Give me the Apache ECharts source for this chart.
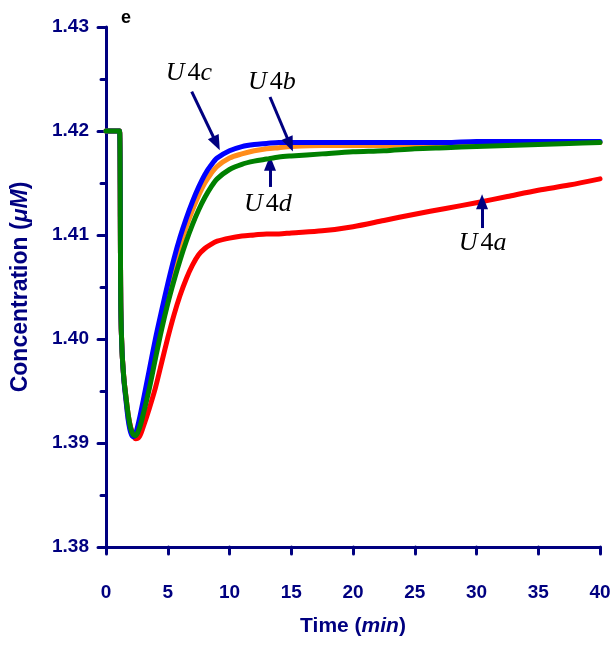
<!DOCTYPE html>
<html>
<head>
<meta charset="utf-8">
<script src="https://cdn.jsdelivr.net/npm/echarts@6/dist/echarts.min.js"></script>
<style>html,body{margin:0;padding:0;background:#fff;}#chart{width:616px;height:645px;}</style>
</head>
<body>
<div id="chart"></div>
<script>
// ---- data ----
const time = [0, 1.0, 1.1, 1.2, 1.3, 1.45, 1.6, 1.8, 2.0, 2.2, 2.4, 2.7, 3.0, 3.5, 4.0, 4.5, 5.0, 5.5, 6.0, 6.5, 7.0, 7.5, 8.0, 8.5, 9.0, 10, 11, 12, 13, 14, 15, 17.5, 20, 22.5, 25, 27.5, 30, 32.5, 35, 37.5, 40];
const u4a = [1.42, 1.42, 1.42, 1.4030, 1.3988, 1.3962, 1.3946, 1.3927, 1.3915, 1.3908, 1.3904, 1.3906, 1.3915, 1.3933, 1.3953, 1.3977, 1.4001, 1.4023, 1.4042, 1.4058, 1.4071, 1.4081, 1.4087, 1.4091, 1.4094, 1.4097, 1.4099, 1.4100, 1.4101, 1.4101, 1.4102, 1.4104, 1.4108, 1.4114, 1.4120, 1.41255, 1.4131, 1.4137, 1.4143, 1.4148, 1.4154];
const u4b = [1.42, 1.42, 1.42, 1.4030, 1.3988, 1.3961, 1.3944, 1.3924, 1.3912, 1.3907, 1.3908, 1.3919, 1.3935, 1.3963, 1.3992, 1.4019, 1.4045, 1.4068, 1.4089, 1.4108, 1.4124, 1.4138, 1.4150, 1.4159, 1.4166, 1.4174, 1.4178, 1.4181, 1.4183, 1.4184, 1.4185, 1.4186, 1.4186, 1.4186, 1.4187, 1.4187, 1.4188, 1.4188, 1.4188, 1.4189, 1.4189];
const u4c = [1.42, 1.42, 1.42, 1.4030, 1.3988, 1.3960, 1.3943, 1.3922, 1.3910, 1.3906, 1.3909, 1.3923, 1.3940, 1.3970, 1.4000, 1.4027, 1.4053, 1.4077, 1.4098, 1.4116, 1.4132, 1.4146, 1.4158, 1.4167, 1.4174, 1.4181, 1.4185, 1.4187, 1.4188, 1.4189, 1.4189, 1.4189, 1.4189, 1.4189, 1.4189, 1.4189, 1.4190, 1.4190, 1.4190, 1.4190, 1.4190];
const u4d = [1.42, 1.42, 1.42, 1.4030, 1.3988, 1.3962, 1.3946, 1.3927, 1.3914, 1.3908, 1.3907, 1.3914, 1.3927, 1.3952, 1.3981, 1.4009, 1.4034, 1.4056, 1.4076, 1.4094, 1.4110, 1.4124, 1.4136, 1.4146, 1.4154, 1.4163, 1.4168, 1.4171, 1.4173, 1.4175, 1.4176, 1.4178, 1.4180, 1.4181, 1.4183, 1.4184, 1.4185, 1.4186, 1.4187, 1.4188, 1.4189];
const seriesNames = ['U4a', 'U4b', 'U4c', 'U4d'];
const yTicks = [1.38, 1.39, 1.40, 1.41, 1.42, 1.43];
const xTicks = [0, 5, 10, 15, 20, 25, 30, 35, 40];
// annotation labels: [letter, t, conc]
const labelSuffix = ['a', 'b', 'c', 'd'];
const labelPos = [[30.5, 1.4092], [13.44, 1.4247], [6.72, 1.4256], [13.1, 1.4130]];
// arrows: [from, to] in data coordinates
const arrows = [
  [[30.45, 1.41067], [30.45, 1.41320]],
  [[13.28, 1.42327], [14.9, 1.41870]],
  [[6.94, 1.42378], [8.95, 1.41880]],
  [[13.28, 1.41462], [13.28, 1.41690]]
];

// ---- chart ----
const navy = '#000080';
const colors = ['#ff0000', '#ff8c1a', '#0000ff', '#008000'];
const chart = echarts.init(document.getElementById('chart'));
const mk = (vals) => time.map((t, i) => [t, vals[i]]);
const allVals = [u4a, u4b, u4c, u4d];

const series = allVals.map((v, i) => ({
  name: seriesNames[i], type: 'line', data: mk(v), showSymbol: false,
  smooth: 0.3,
  lineStyle: { color: colors[i], width: 5, cap: 'round', join: 'round' },
  z: 2 + i, animation: false
}));

series.push({
  type: 'line', data: [], animation: false, z: 10,
  markLine: {
    silent: true, animation: false,
    symbol: ['none', 'triangle'], symbolSize: [12, 15], symbolOffset: 0,
    lineStyle: { color: navy, width: 3, type: 'solid' },
    label: { show: false },
    data: arrows.map(a => [{ coord: a[0] }, { coord: a[1] }])
  },
  markPoint: {
    silent: true, animation: false, symbol: 'circle', symbolSize: 0,
    label: {
      show: true, position: 'inside',
      formatter: p => '{i|U}{s| }{n|4}{i|' + p.name + '}',
      rich: {
        i: { fontFamily: 'Liberation Serif', fontStyle: 'italic', fontSize: 26, color: '#000' },
        s: { fontFamily: 'Liberation Serif', fontSize: 12, color: '#000' },
        n: { fontFamily: 'Liberation Serif', fontSize: 26, color: '#000' }
      }
    },
    data: labelPos.map((p, i) => ({ name: labelSuffix[i], coord: p }))
  }
});

chart.setOption({
  animation: false,
  backgroundColor: '#fff',
  title: { text: 'e', left: 116, top: 4, textStyle: { fontSize: 18, fontWeight: 'bold', color: '#000', fontFamily: 'Liberation Sans' } },
  grid: { left: 106, right: 16, top: 27, bottom: 98, containLabel: false, outerBoundsMode: 'none' },
  xAxis: {
    type: 'value', min: xTicks[0], max: xTicks[xTicks.length - 1], interval: 5,
    name: 'Time ({i|min})', nameLocation: 'middle', nameGap: 69,
    nameTextStyle: { fontSize: 21, fontWeight: 'bold', color: navy, fontFamily: 'Liberation Sans',
      rich: { i: { fontSize: 21, fontWeight: 'bold', fontStyle: 'italic', color: navy, fontFamily: 'Liberation Sans' } } },
    axisLine: { lineStyle: { color: navy, width: 3, cap: 'round' } },
    axisTick: { length: 7, lineStyle: { color: navy, width: 3, cap: 'round' } },
    axisLabel: { margin: 36, fontSize: 19, fontWeight: 'bold', color: navy, fontFamily: 'Liberation Sans' },
    splitLine: { show: false }
  },
  yAxis: {
    type: 'value', min: yTicks[0], max: yTicks[yTicks.length - 1], interval: 0.01,
    name: 'Concentration ({i|μM})', nameLocation: 'middle', nameGap: 74,
    nameTextStyle: { fontSize: 23, fontWeight: 'bold', color: navy, fontFamily: 'Liberation Sans',
      rich: { i: { fontSize: 23, fontWeight: 'bold', fontStyle: 'italic', color: navy, fontFamily: 'Liberation Sans' } } },
    axisLine: { show: true, lineStyle: { color: navy, width: 3, cap: 'round' } },
    axisTick: { show: true, length: 8, lineStyle: { color: navy, width: 3, cap: 'round' } },
    minorTick: { show: true, splitNumber: 2, length: 5, lineStyle: { color: navy, width: 3, cap: 'round' } },
    axisLabel: { margin: 17, fontSize: 19, fontWeight: 'bold', color: navy, fontFamily: 'Liberation Sans',
      formatter: v => v.toFixed(2) },
    splitLine: { show: false }
  },
  series: series
});
</script>
</body>
</html>
